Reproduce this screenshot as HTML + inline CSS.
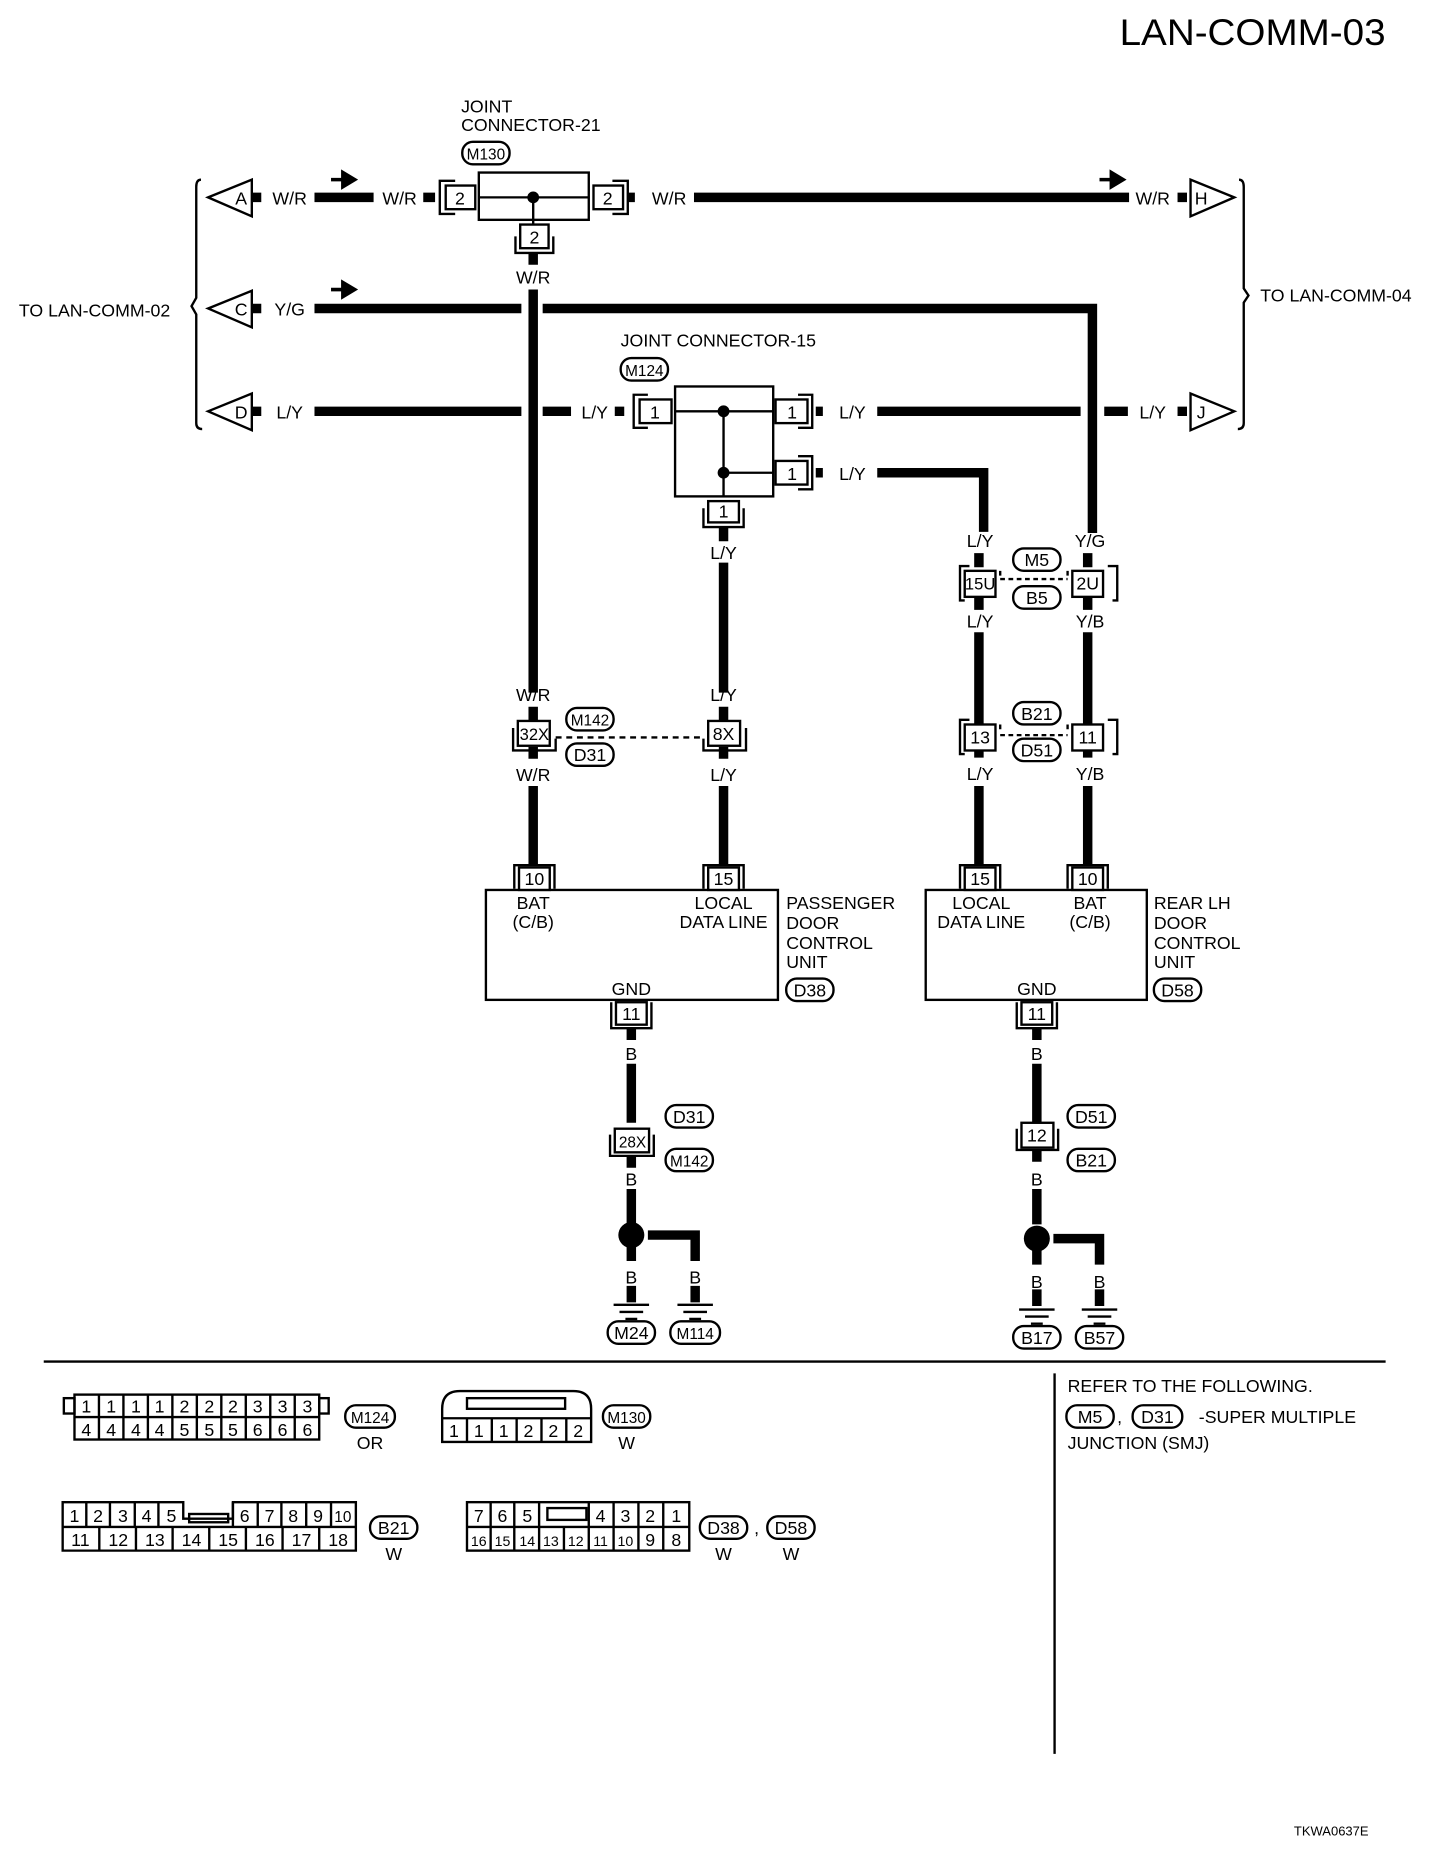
<!DOCTYPE html>
<html><head><meta charset="utf-8"><style>
html,body{margin:0;padding:0;background:#fff;}
svg{display:block;}
text{font-family:"Liberation Sans",sans-serif;font-size:15px;fill:#000;text-anchor:middle;}
.l{text-anchor:start;}
.w{stroke:#000;stroke-width:8;fill:none;}
.t{stroke:#000;stroke-width:2;fill:none;}
.b{stroke:#000;stroke-width:2;fill:#fff;}
</style></head><body>
<svg width="1440" height="1852" viewBox="0 0 1218 1567" preserveAspectRatio="none" xmlns="http://www.w3.org/2000/svg">
<text x="947" y="38" class="l" style="font-size:31px" textLength="225" lengthAdjust="spacingAndGlyphs">LAN-COMM-03</text>

<!-- braces -->
<path class="t" d="M170,152 Q166,152 166,158 L166,252 L162,259 L166,266 L166,358 Q166,363 171,363"/>
<path class="t" d="M1048,152 Q1052,152 1052,158 L1052,244 L1056,250 L1052,256 L1052,358 Q1052,363 1047,363"/>
<text x="80" y="268">TO LAN-COMM-02</text>
<text x="1130" y="255">TO LAN-COMM-04</text>

<!-- triangles -->
<polygon class="t" points="176,167 213,152 213,183"/><text x="204" y="173">A</text>
<polygon class="t" points="176,261 213,246 213,277"/><text x="204" y="267">C</text>
<polygon class="t" points="176,348 213,333 213,364"/><text x="204" y="354">D</text>
<polygon class="t" points="1044,167 1007,152 1007,183"/><text x="1016" y="173">H</text>
<polygon class="t" points="1044,348 1007,333 1007,364"/><text x="1016" y="354">J</text>

<!-- arrows -->
<path d="M280,152 h10 v-6 l10,6 l-10,6 v-6z" stroke="#000" stroke-width="3"/>
<path d="M280,245 h10 v-6 l10,6 l-10,6 v-6z" stroke="#000" stroke-width="3"/>
<path d="M930,152 h10 v-6 l10,6 l-10,6 v-6z" stroke="#000" stroke-width="3"/>

<!-- row W/R -->
<path class="w" d="M213,167h8 M266,167h50 M358,167h10 M531,167h6 M587,167h368 M996,167h8"/>
<text x="245" y="173">W/R</text><text x="338" y="173">W/R</text><text x="566" y="173">W/R</text><text x="975" y="173">W/R</text>
<!-- joint 21 -->
<text x="390" y="95" class="l">JOINT</text><text x="390" y="111" class="l">CONNECTOR-21</text>
<rect x="391" y="120" width="40" height="19" rx="9" class="t"/><text x="411" y="135" style="font-size:13px">M130</text>
<rect x="405" y="146" width="93" height="40" class="b"/>
<path class="t" d="M405,167h93 M451,167v23"/><circle cx="451" cy="167" r="5"/>
<rect x="377" y="157" width="25" height="20" class="b"/><text x="389" y="173">2</text>
<path class="t" d="M385,153h-13v28h13"/>
<rect x="502" y="157" width="25" height="20" class="b"/><text x="514" y="173">2</text>
<path class="t" d="M518,153h13v28h-13"/>
<rect x="440" y="190" width="24" height="20" class="b"/><text x="452" y="206">2</text>
<path class="t" d="M436,200v14h32v-14"/>
<path class="w" d="M451,214v10 M451,245v341"/>
<text x="451" y="240">W/R</text>

<!-- row Y/G -->
<text x="245" y="267">Y/G</text>
<path class="w" d="M213,261h8 M266,261h175 M459,261h465v190"/>

<!-- row L/Y -->
<text x="245" y="354">L/Y</text>
<path class="w" d="M213,348h8 M266,348h175 M459,348h24 M520,348h8 M690,348h6 M742,348h172 M934,348h20 M996,348h8"/>
<text x="503" y="354">L/Y</text><text x="721" y="354">L/Y</text><text x="975" y="354">L/Y</text>
<!-- joint 15 -->
<text x="525" y="293" class="l">JOINT CONNECTOR-15</text>
<rect x="525" y="303" width="40" height="19" rx="9" class="t"/><text x="545" y="318" style="font-size:13px">M124</text>
<rect x="571" y="327" width="83" height="93" class="b"/>
<path class="t" d="M571,348h83 M612,348v72 M612,400h42"/><circle cx="612" cy="348" r="5"/><circle cx="612" cy="400" r="5"/>
<rect x="541" y="338" width="27" height="20" class="b"/><text x="554" y="354">1</text>
<path class="t" d="M548,334h-12v28h12"/>
<rect x="656" y="338" width="27" height="20" class="b"/><text x="670" y="354">1</text>
<path class="t" d="M675,334h12v28h-12"/>
<rect x="656" y="390" width="27" height="20" class="b"/><text x="670" y="406">1</text>
<path class="t" d="M675,386h12v28h-12"/>
<path class="w" d="M690,400h6 M742,400h90v50"/>
<text x="721" y="406">L/Y</text>
<rect x="599" y="424" width="26" height="18" class="b"/><text x="612" y="438">1</text>
<path class="t" d="M595,430v16h34v-16"/>
<path class="w" d="M612,446v12 M612,476v110"/>
<text x="612" y="473">L/Y</text>

<!-- M5/B5 -->
<text x="829" y="463">L/Y</text><text x="922" y="463">Y/G</text>
<path class="w" d="M828,468v12 M920,468v12 M828,506v10 M920,506v10 M828,535v70 M920,535v70"/>
<rect x="816" y="483" width="26" height="22" class="b"/><text x="829" y="499" style="font-size:14px">15U</text>
<path class="t" d="M820,479h-8v29h4 M846,487v-4"/>
<rect x="907" y="483" width="26" height="22" class="b"/><text x="920" y="499">2U</text>
<path class="t" d="M937,479h8v29h-4 M903,487v-4"/>
<path class="t" d="M846,490h57" stroke-dasharray="4,3" stroke-width="3"/>
<rect x="857" y="464" width="40" height="19" rx="9" class="t"/><text x="877" y="479">M5</text>
<rect x="857" y="496" width="40" height="19" rx="9" class="t"/><text x="877" y="511">B5</text>
<text x="829" y="531">L/Y</text><text x="922" y="531">Y/B</text>

<!-- B21/D51 -->
<rect x="816" y="613" width="26" height="22" class="b"/><text x="829" y="629">13</text>
<path class="t" d="M820,609h-8v29h4 M846,617v-4"/>
<rect x="907" y="613" width="26" height="22" class="b"/><text x="920" y="629">11</text>
<path class="t" d="M937,609h8v29h-4 M903,617v-4"/>
<path class="t" d="M846,622h57" stroke-dasharray="4,3" stroke-width="3"/>
<rect x="857" y="594" width="40" height="19" rx="9" class="t"/><text x="877" y="609">B21</text>
<rect x="857" y="625" width="40" height="19" rx="9" class="t"/><text x="877" y="640">D51</text>
<text x="829" y="660">L/Y</text><text x="922" y="660">Y/B</text>
<path class="w" d="M828,665v66 M920,665v66 M828,605v8 M920,605v8 M828,635v6 M920,635v6"/>

<!-- M142/D31 -->
<text x="451" y="593">W/R</text><text x="612" y="593">L/Y</text>
<path class="w" d="M451,598v12 M612,598v12 M451,632v10 M612,632v10 M451,665v66 M612,665v66"/>
<rect x="438" y="610" width="27" height="21" class="b"/><text x="452" y="626" style="font-size:14px">32X</text>
<path class="t" d="M434,616v19h36v-10"/>
<rect x="599" y="610" width="27" height="21" class="b"/><text x="612" y="626">8X</text>
<path class="t" d="M595,625v10h36v-19"/>
<path class="t" d="M470,624h125" stroke-dasharray="5,4"/>
<rect x="479" y="599" width="40" height="19" rx="9" class="t"/><text x="499" y="614" style="font-size:13px">M142</text>
<rect x="479" y="629" width="40" height="19" rx="9" class="t"/><text x="499" y="644">D31</text>
<text x="451" y="661">W/R</text><text x="612" y="661">L/Y</text>

<!-- passenger unit -->
<rect x="411" y="753" width="247" height="93" class="t"/>
<rect x="439" y="734" width="26" height="19" class="b"/><text x="452" y="749">10</text>
<path class="t" d="M435,752v-20h34v20"/>
<rect x="599" y="734" width="26" height="19" class="b"/><text x="612" y="749">15</text>
<path class="t" d="M595,752v-20h34v20"/>
<text x="451" y="769">BAT</text><text x="451" y="785">(C/B)</text>
<text x="612" y="769">LOCAL</text><text x="612" y="785">DATA LINE</text>
<text x="534" y="842">GND</text>
<text x="665" y="769" class="l">PASSENGER</text><text x="665" y="786" class="l">DOOR</text><text x="665" y="803" class="l">CONTROL</text><text x="665" y="819" class="l">UNIT</text>
<rect x="665" y="828" width="40" height="19" rx="9" class="t"/><text x="685" y="843">D38</text>
<rect x="521" y="848" width="26" height="19" class="b"/><text x="534" y="863">11</text>
<path class="t" d="M517,848v22h34v-22"/>
<path class="w" d="M534,870v10 M534,900v50 M534,978v10 M534,1006v30 M534,1055v12 M534,1088v14 M548,1045h40v22 M588,1088v14"/>
<text x="534" y="897">B</text>
<rect x="520" y="955" width="29" height="20" class="b"/><text x="535" y="971" style="font-size:13px">28X</text>
<path class="t" d="M516,960v18h37v-18"/>
<rect x="563" y="935" width="40" height="19" rx="9" class="t"/><text x="583" y="950">D31</text>
<rect x="563" y="972" width="40" height="19" rx="9" class="t"/><text x="583" y="987" style="font-size:13px">M142</text>
<text x="534" y="1003">B</text>
<circle cx="534" cy="1045" r="11"/>
<text x="534" y="1086">B</text><text x="588" y="1086">B</text>
<path class="t" d="M519,1104h30 M524,1110h20 M529,1116h10 M573,1104h30 M578,1110h20 M583,1116h10" stroke-width="2.5"/>
<rect x="514" y="1118" width="40" height="19" rx="9" class="t"/><text x="534" y="1133">M24</text>
<rect x="567" y="1118" width="42" height="19" rx="9" class="t"/><text x="588" y="1133" style="font-size:13px">M114</text>

<!-- rear LH unit -->
<rect x="783" y="753" width="187" height="93" class="t"/>
<rect x="816" y="734" width="26" height="19" class="b"/><text x="829" y="749">15</text>
<path class="t" d="M812,752v-20h34v20"/>
<rect x="907" y="734" width="26" height="19" class="b"/><text x="920" y="749">10</text>
<path class="t" d="M903,752v-20h34v20"/>
<text x="830" y="769">LOCAL</text><text x="830" y="785">DATA LINE</text>
<text x="922" y="769">BAT</text><text x="922" y="785">(C/B)</text>
<text x="877" y="842">GND</text>
<text x="976" y="769" class="l">REAR LH</text><text x="976" y="786" class="l">DOOR</text><text x="976" y="803" class="l">CONTROL</text><text x="976" y="819" class="l">UNIT</text>
<rect x="976" y="828" width="40" height="19" rx="9" class="t"/><text x="996" y="843">D58</text>
<rect x="864" y="848" width="26" height="19" class="b"/><text x="877" y="863">11</text>
<path class="t" d="M860,848v22h34v-22"/>
<path class="w" d="M877,870v10 M877,900v50 M877,973v10 M877,1006v30 M877,1058v12 M877,1091v14 M891,1048h39v22 M930,1091v14"/>
<text x="877" y="897">B</text>
<rect x="864" y="950" width="27" height="21" class="b"/><text x="877" y="966">12</text>
<path class="t" d="M860,955v18h35v-18"/>
<rect x="903" y="935" width="40" height="19" rx="9" class="t"/><text x="923" y="950">D51</text>
<rect x="903" y="972" width="40" height="19" rx="9" class="t"/><text x="923" y="987">B21</text>
<text x="877" y="1003">B</text>
<circle cx="877" cy="1048" r="11"/>
<text x="877" y="1090">B</text><text x="930" y="1090">B</text>
<path class="t" d="M862,1108h30 M867,1114h20 M872,1120h10 M915,1108h30 M920,1114h20 M925,1120h10" stroke-width="2.5"/>
<rect x="857" y="1122" width="40" height="19" rx="9" class="t"/><text x="877" y="1137">B17</text>
<rect x="910" y="1122" width="40" height="19" rx="9" class="t"/><text x="930" y="1137">B57</text>

<!-- divider -->
<path class="t" d="M37,1152h1135" stroke-width="2.5"/>
<path class="t" d="M892,1162v322"/>
<text x="903" y="1178" class="l">REFER TO THE FOLLOWING.</text>
<rect x="902" y="1189" width="40" height="19" rx="9" class="t"/><text x="922" y="1204">M5</text>
<text x="947" y="1204">,</text>
<rect x="958" y="1189" width="42" height="19" rx="9" class="t"/><text x="979" y="1204">D31</text>
<text x="1014" y="1204" class="l">-SUPER MULTIPLE</text>
<text x="903" y="1226" class="l">JUNCTION (SMJ)</text>

<!-- M124 connector -->
<g>
<rect x="63" y="1180" width="207" height="38" class="b"/>
<rect x="54" y="1183" width="9" height="13" class="t"/><rect x="270" y="1183" width="8" height="13" class="t"/>
<path class="t" d="M63,1199h207 M83.7,1180v38 M104.4,1180v38 M125.1,1180v38 M145.8,1180v38 M166.5,1180v38 M187.2,1180v38 M207.9,1180v38 M228.6,1180v38 M249.3,1180v38"/>
<text x="73" y="1195">1</text><text x="94" y="1195">1</text><text x="115" y="1195">1</text><text x="135" y="1195">1</text><text x="156" y="1195">2</text><text x="177" y="1195">2</text><text x="197" y="1195">2</text><text x="218" y="1195">3</text><text x="239" y="1195">3</text><text x="260" y="1195">3</text>
<text x="73" y="1215">4</text><text x="94" y="1215">4</text><text x="115" y="1215">4</text><text x="135" y="1215">4</text><text x="156" y="1215">5</text><text x="177" y="1215">5</text><text x="197" y="1215">5</text><text x="218" y="1215">6</text><text x="239" y="1215">6</text><text x="260" y="1215">6</text>
</g>
<rect x="292" y="1189" width="42" height="19" rx="9" class="t"/><text x="313" y="1204" style="font-size:13px">M124</text>
<text x="313" y="1226">OR</text>

<!-- M130 connector -->
<path class="b" d="M374,1220v-28q0-15,15-15h96q15,0,15,15v28z"/>
<rect x="395" y="1183" width="83" height="9" class="t" stroke-width="2.5"/>
<path class="t" d="M374,1200h126 M395,1200v20 M416,1200v20 M437,1200v20 M458,1200v20 M479,1200v20"/>
<text x="384" y="1216">1</text><text x="405" y="1216">1</text><text x="426" y="1216">1</text><text x="447" y="1216">2</text><text x="468" y="1216">2</text><text x="489" y="1216">2</text>
<rect x="510" y="1189" width="40" height="19" rx="9" class="t"/><text x="530" y="1204" style="font-size:13px">M130</text>
<text x="530" y="1226">W</text>

<!-- B21 connector -->
<path class="b" d="M53,1271h102v14h42v-14h104v41h-248z"/>
<path class="t" d="M53,1292h248 M73,1271v21 M93,1271v21 M114,1271v21 M134,1271v21 M197,1271v21 M218,1271v21 M238,1271v21 M259,1271v21 M280,1271v21 M84,1292v20 M115,1292v20 M146,1292v20 M177,1292v20 M208,1292v20 M239,1292v20 M270,1292v20"/>
<rect x="160" y="1281" width="33" height="7" class="t" stroke-width="2.5"/>
<text x="63" y="1288">1</text><text x="83" y="1288">2</text><text x="104" y="1288">3</text><text x="124" y="1288">4</text><text x="145" y="1288">5</text><text x="207" y="1288">6</text><text x="228" y="1288">7</text><text x="248" y="1288">8</text><text x="269" y="1288">9</text><text x="290" y="1288" style="font-size:13px">10</text>
<text x="68" y="1308">11</text><text x="100" y="1308">12</text><text x="131" y="1308">13</text><text x="162" y="1308">14</text><text x="193" y="1308">15</text><text x="224" y="1308">16</text><text x="255" y="1308">17</text><text x="286" y="1308">18</text>
<rect x="313" y="1283" width="40" height="19" rx="9" class="t"/><text x="333" y="1298">B21</text>
<text x="333" y="1320">W</text>

<!-- D38 connector -->
<rect x="395" y="1271" width="188" height="41" class="b"/>
<path class="t" d="M395,1292h188 M415,1271v21 M435,1271v21 M456,1271v21 M498,1271v21 M519,1271v21 M540,1271v21 M561,1271v21 M415,1292v20 M435,1292v20 M456,1292v20 M477,1292v20 M498,1292v20 M519,1292v20 M540,1292v20 M561,1292v20"/>
<rect x="463" y="1276" width="33" height="10" class="t" stroke-width="2.5"/>
<text x="405" y="1288">7</text><text x="425" y="1288">6</text><text x="446" y="1288">5</text><text x="508" y="1288">4</text><text x="529" y="1288">3</text><text x="550" y="1288">2</text><text x="572" y="1288">1</text>
<text x="405" y="1308" style="font-size:12px">16</text><text x="425" y="1308" style="font-size:12px">15</text><text x="446" y="1308" style="font-size:12px">14</text><text x="466" y="1308" style="font-size:12px">13</text><text x="487" y="1308" style="font-size:12px">12</text><text x="508" y="1308" style="font-size:12px">11</text><text x="529" y="1308" style="font-size:12px">10</text>
<text x="550" y="1308">9</text><text x="572" y="1308">8</text>
<rect x="592" y="1283" width="40" height="19" rx="9" class="t"/><text x="612" y="1298">D38</text>
<text x="640" y="1298">,</text>
<rect x="649" y="1283" width="40" height="19" rx="9" class="t"/><text x="669" y="1298">D58</text>
<text x="612" y="1320">W</text><text x="669" y="1320">W</text>

<text x="1126" y="1553" style="font-size:11px">TKWA0637E</text>
</svg>
</body></html>
